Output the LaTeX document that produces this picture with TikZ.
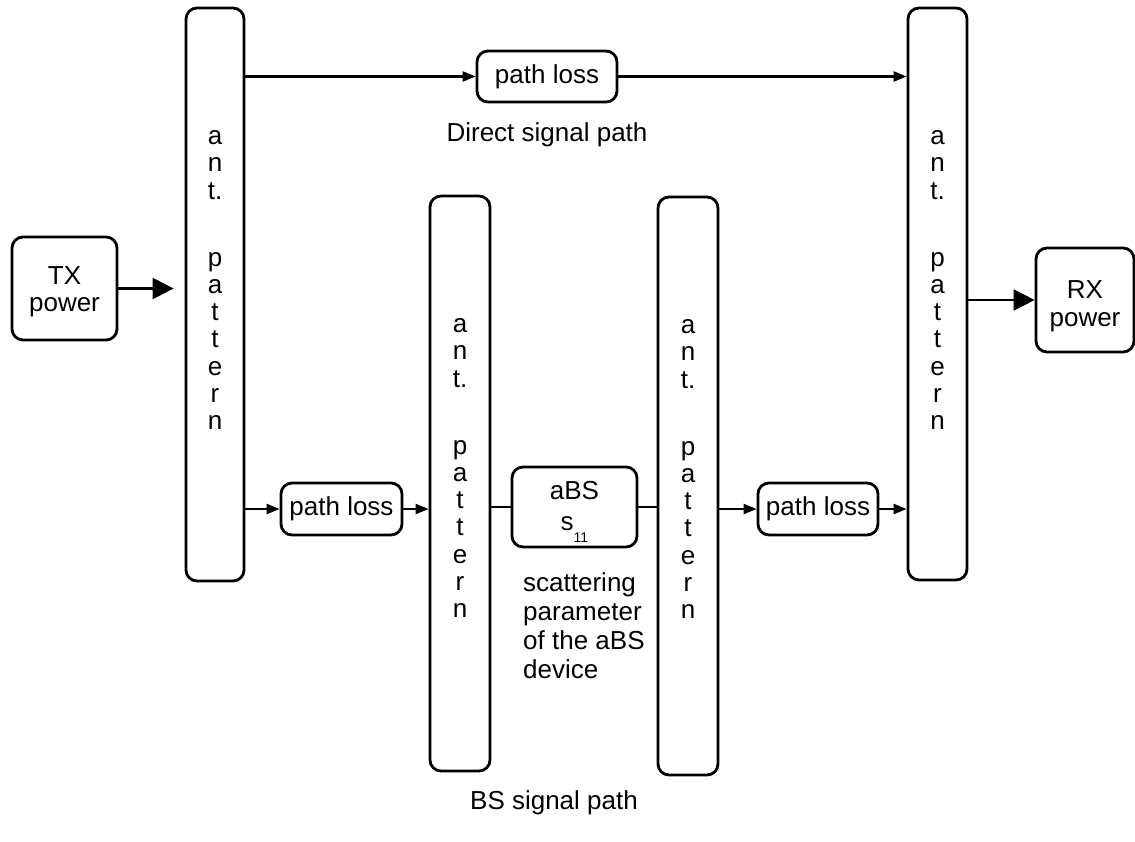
\documentclass[tikz,border=0pt]{standalone}
\usepackage{fontspec}
\setmainfont{Liberation Sans}
\usetikzlibrary{arrows.meta,calc}
\newcommand{\antletters}{\begin{tabular}[t]{@{}c@{}}a\\n\\t.\\[40pt]p\\a\\t\\t\\e\\r\\n\end{tabular}}
\newcommand{\twolines}[3]{\raisebox{#3}[\height][\depth]{\begin{tabular}{@{}c@{}}#1\\#2\end{tabular}}}
\begin{document}
\begin{tikzpicture}[x=1pt,y=-1pt,
  box/.style={draw=black, line width=2.8pt, rounded corners=11pt, inner sep=0pt, fill=white},
  txt/.style={inner sep=0pt, font=\fontsize{26}{27.2}\selectfont},
  conn/.style={line width=2.4pt},
  sarrow/.style={conn, -{Triangle[length=13pt,width=10pt]}},
  barrow/.style={conn, -{Triangle[length=21pt,width=21pt]}}
]
\useasboundingbox (0,0) rectangle (1135,841);
% boxes
\node[box, minimum width=105pt, minimum height=103pt, font=\fontsize{26}{27.5}\selectfont] (tx) at (64.5,288.5) {\twolines{TX}{power}{-4pt}};
\node[box, minimum width=98pt, minimum height=104pt, font=\fontsize{26}{28}\selectfont] (rx) at (1085,300) {\twolines{RX}{power}{-7pt}};
\node[box, minimum width=58pt, minimum height=573pt] (ant1) at (215,294.5) {};
\node[box, minimum width=60pt, minimum height=575pt] (ant2) at (460,483.5) {};
\node[box, minimum width=60pt, minimum height=578pt] (ant3) at (688,486) {};
\node[box, minimum width=59pt, minimum height=572pt] (antR) at (937.5,294) {};
\node[box, minimum width=140pt, minimum height=51pt, font=\fontsize{26}{27.2}\selectfont] (pl0) at (547,76.5) {path loss};
\node[box, minimum width=121pt, minimum height=52pt, font=\fontsize{26}{27.2}\selectfont] (pl1) at (341.5,509) {path loss};
\node[box, minimum width=120pt, minimum height=52pt, font=\fontsize{26}{27.2}\selectfont] (pl2) at (818,509) {path loss};
\node[box, minimum width=125pt, minimum height=80pt, font=\fontsize{26}{31}\selectfont] (abs) at (574.5,507) {\twolines{aBS}{s\raisebox{-12pt}{\fontsize{14}{14}\selectfont 11}}{-3pt}};
% antenna texts
\node[txt, anchor=base] (t1) at ($(ant1.north)+(0,138)$) {\antletters};
\node[txt, anchor=base] (t2) at ($(ant2.north)+(0,138)$) {\antletters};
\node[txt, anchor=base] (t3) at ($(ant3.north)+(0,138)$) {\antletters};
\node[txt, anchor=base] (tR) at ($(antR.north)+(0,138)$) {\antletters};
% labels
\node[txt] (direct) at (547,135) {Direct signal path};
\node[txt] (bs) at (554,803) {BS signal path};
\node[txt, anchor=base west, font=\fontsize{26}{29}\selectfont] (scat) at (523,591) {\begin{tabular}[t]{@{}l@{}}scattering\\parameter\\of the aBS\\device\end{tabular}};
% connectors
\draw[barrow, shorten >=11pt] (tx.east) -- (tx.east -| ant1.west);
\draw[sarrow] (pl0.west -| ant1.east) -- (pl0.west);
\draw[sarrow] (pl0.east) -- (pl0.east -| antR.west);
\draw[sarrow] (pl1.west -| ant1.east) -- (pl1.west);
\draw[sarrow] (pl1.east) -- (pl1.east -| ant2.west);
\draw[conn] (abs.west -| ant2.east) -- (abs.west);
\draw[conn] (abs.east) -- (abs.east -| ant3.west);
\draw[sarrow] (pl2.west -| ant3.east) -- (pl2.west);
\draw[sarrow] (pl2.east) -- (pl2.east -| antR.west);
\draw[barrow] (rx.west -| antR.east) -- (rx.west);
\end{tikzpicture}
\end{document}
